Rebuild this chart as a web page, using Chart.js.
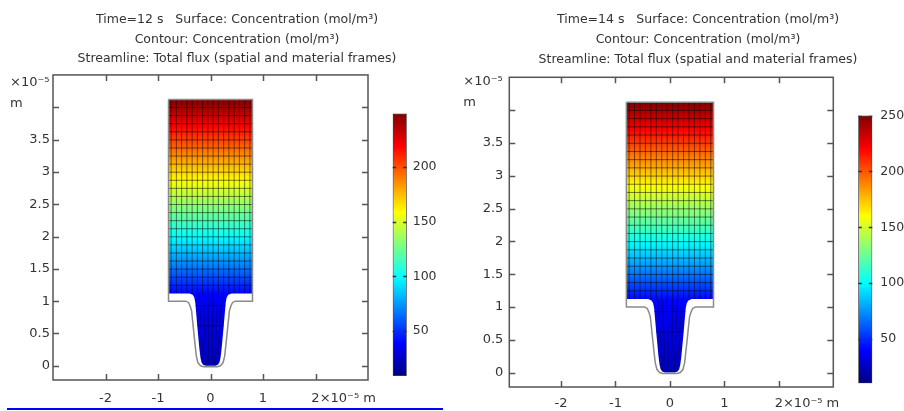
<!DOCTYPE html>
<html>
<head>
<meta charset="utf-8">
<script src="https://cdn.jsdelivr.net/npm/chart.js@4.4.0/dist/chart.umd.min.js"></script>
<style>
html, body { margin: 0; padding: 0; background: #fff; width: 904px; height: 411px; overflow: hidden; }
.box { position: absolute; }
#underline { position: absolute; left: 7px; top: 408px; width: 436px; height: 2px; background: #0000ff; }
</style>
</head>
<body>
<div class="box" style="left:0;top:0"><canvas id="plot12" width="474" height="411"></canvas></div>
<div class="box" style="left:450px;top:0"><canvas id="plot14" width="496" height="411"></canvas></div>
<div class="box" style="left:380px;top:100px"><canvas id="bar12" width="80" height="290"></canvas></div>
<div class="box" style="left:845px;top:100px"><canvas id="bar14" width="80" height="300"></canvas></div>
<div id="underline"></div>
<script>
// axis ticks (x and y in units of 1e-5 m)
var xTicks = [-2, -1, 0, 1, 2];
var xTickLabels = ['-2', '-1', '0', '1', '2'];
var yTicks = [0, 0.5, 1, 1.5, 2, 2.5, 3, 3.5, 4];
var yTickLabels = ['0', '0.5', '1', '1.5', '2', '2.5', '3', '3.5', ''];

// colour bars (mol/m3)
var cRange12 = [9, 249];
var cRange14 = [10.4, 250];
var colorTicks12 = [50, 100, 150, 200];
var colorTicks14 = [50, 100, 150, 200, 250];

// concentration read along the height of the domain
var fieldY  = [0, 0.5, 1.0, 1.12, 1.5, 2.0, 2.5, 3.0, 3.5, 4.12];
var conc12  = [24, 31, 37, 40, 66, 100, 134, 168, 204, 249];
var conc14  = [25, 32, 39, 42, 68, 102, 136, 171, 206, 250];

// coloured domain (deformed shape)
var domainX = [-0.8, 0.8, 0.8, 0.40, 0.34, 0.31, 0.29, 0.25, 0.21, 0.19, 0.17, 0.14, 0.09,
               -0.09, -0.14, -0.17, -0.19, -0.21, -0.25, -0.29, -0.31, -0.34, -0.40, -0.8];
var domainY = [4.12, 4.12, 1.12, 1.12, 1.10, 1.06, 0.98, 0.60, 0.25, 0.12, 0.05, 0.015, 0.0,
               0.0, 0.015, 0.05, 0.12, 0.25, 0.60, 0.98, 1.06, 1.10, 1.12, 1.12];

// grey geometry outline
var outlineX = [-0.8, 0.8, 0.8, 0.47, 0.42, 0.39, 0.36, 0.31, 0.27, 0.24, 0.19, 0.13,
                -0.13, -0.19, -0.24, -0.27, -0.31, -0.36, -0.39, -0.42, -0.47, -0.8, -0.8];
var outlineY = [4.12, 4.12, 1.0, 1.0, 0.98, 0.93, 0.85, 0.45, 0.15, 0.05, 0.0, -0.015,
                -0.015, 0.0, 0.05, 0.15, 0.45, 0.85, 0.93, 0.98, 1.0, 1.0, 4.12];

// contour lines and streamlines
var contourY = [0.62, 0.93, 1.245, 1.37, 1.495, 1.62, 1.745, 1.87, 1.995, 2.12, 2.245, 2.37, 2.495,
                2.62, 2.745, 2.87, 2.995, 3.12, 3.245, 3.37, 3.495, 3.62, 3.745, 3.87, 3.995];
var streamX = [-0.75, -0.65, -0.55, -0.45, -0.35, -0.25, -0.15, -0.05,
               0.05, 0.15, 0.25, 0.35, 0.45, 0.55, 0.65, 0.75];
var neckStreamTopX = [-0.22, -0.14, -0.05, 0.05, 0.14, 0.22];
var neckStreamBotX = [-0.13, -0.08, -0.03, 0.03, 0.08, 0.13];

var titles12 = ['Time=12 s   Surface: Concentration (mol/m\u00b3)', 'Contour: Concentration (mol/m\u00b3)',
                'Streamline: Total flux (spatial and material frames)'];
var titles14 = ['Time=14 s   Surface: Concentration (mol/m\u00b3)', 'Contour: Concentration (mol/m\u00b3)',
                'Streamline: Total flux (spatial and material frames)'];

Chart.defaults.font.family = '"DejaVu Sans", sans-serif';
Chart.defaults.font.size = 13;
Chart.defaults.color = '#333';

function jet(t) {
  t = Math.max(0, Math.min(1, t));
  var f = function (v) { return Math.round(255 * Math.max(0, Math.min(1, v))); };
  return 'rgb(' + f(1.5 - Math.abs(4 * t - 3)) + ',' + f(1.5 - Math.abs(4 * t - 2)) + ',' + f(1.5 - Math.abs(4 * t - 1)) + ')';
}

function interp(xs, ys, v) {
  if (v <= xs[0]) return ys[0];
  for (var i = 1; i < xs.length; i++) {
    if (v <= xs[i]) return ys[i - 1] + (ys[i] - ys[i - 1]) * (v - xs[i - 1]) / (xs[i] - xs[i - 1]);
  }
  return ys[ys.length - 1];
}

var fieldPlugin = {
  id: 'field',
  beforeDatasetsDraw: function (chart, args, o) {
    var ctx = chart.ctx, x = chart.scales.x, y = chart.scales.y;
    var px = function (v) { return x.getPixelForValue(v); };
    var py = function (v) { return y.getPixelForValue(v); };
    ctx.save();
    ctx.beginPath();
    domainX.forEach(function (v, i) {
      if (i) ctx.lineTo(px(v), py(domainY[i])); else ctx.moveTo(px(v), py(domainY[i]));
    });
    ctx.closePath();
    var y0 = fieldY[0], y1 = fieldY[fieldY.length - 1];
    var g = ctx.createLinearGradient(0, py(y0), 0, py(y1));
    for (var k = 0; k <= 100; k++) {
      var t = k / 100;
      var c = interp(fieldY, o.conc, y0 + (y1 - y0) * t);
      g.addColorStop(t, jet((c - o.range[0]) / (o.range[1] - o.range[0])));
    }
    ctx.fillStyle = g;
    ctx.fill();
    ctx.clip();
    ctx.strokeStyle = 'rgba(0,0,0,0.5)';
    ctx.lineWidth = 1;
    contourY.forEach(function (v) {
      ctx.beginPath(); ctx.moveTo(px(-1), py(v)); ctx.lineTo(px(1), py(v)); ctx.stroke();
    });
    streamX.forEach(function (v) {
      ctx.beginPath(); ctx.moveTo(px(v), py(4.2)); ctx.lineTo(px(v), py(1.12)); ctx.stroke();
    });
    ctx.strokeStyle = 'rgba(0,0,0,0.35)';
    neckStreamTopX.forEach(function (v, i) {
      ctx.beginPath(); ctx.moveTo(px(v), py(1.12)); ctx.lineTo(px(neckStreamBotX[i]), py(0.02)); ctx.stroke();
    });
    ctx.restore();
  },
  afterDraw: function (chart, args, o) {
    var ctx = chart.ctx, a = chart.chartArea, x = chart.scales.x, y = chart.scales.y;
    ctx.save();
    ctx.strokeStyle = '#555';
    ctx.lineWidth = 1.5;
    ctx.strokeRect(a.left, a.top, a.right - a.left, a.bottom - a.top);
    ctx.beginPath();
    xTicks.forEach(function (v) {
      var p = Math.round(x.getPixelForValue(v)) + 0.5;
      ctx.moveTo(p, a.bottom); ctx.lineTo(p, a.bottom - 6);
      ctx.moveTo(p, a.top); ctx.lineTo(p, a.top + 6);
    });
    yTicks.forEach(function (v) {
      var p = Math.round(y.getPixelForValue(v)) + 0.5;
      ctx.moveTo(a.left, p); ctx.lineTo(a.left + 6, p);
      ctx.moveTo(a.right, p); ctx.lineTo(a.right - 6, p);
    });
    ctx.stroke();
    ctx.fillStyle = '#333';
    ctx.font = '13px "DejaVu Sans", sans-serif';
    ctx.textBaseline = 'middle';
    ctx.textAlign = 'left';
    ctx.fillText('\u00d710\u207b\u2075', a.left - o.unitDx, a.top + o.unitDy);
    ctx.fillText('m', a.left - o.unitDx, a.top + o.unitDy + 21);
    var p2 = x.getPixelForValue(2) + ctx.measureText('2').width / 2;
    ctx.fillText('\u00d710\u207b\u2075 m', p2, a.bottom + o.xPad + 7.8);
    ctx.restore();
  }
};

function makePlot(id, titles, conc, range, L) {
  new Chart(document.getElementById(id), {
    type: 'scatter',
    data: {
      datasets: [{
        data: outlineX.map(function (v, i) { return { x: v, y: outlineY[i] }; }),
        showLine: true,
        borderColor: '#8a8a8a',
        borderWidth: 1.5,
        pointRadius: 0,
        fill: false
      }]
    },
    options: {
      responsive: false,
      animation: false,
      layout: { padding: 0 },
      plugins: {
        legend: { display: false },
        tooltip: { enabled: false },
        title: {
          display: true,
          text: titles,
          color: '#333',
          font: { size: 12.5, weight: 'normal', lineHeight: L.titleLH },
          padding: { top: L.titleTop, bottom: L.titleBottom }
        },
        field: { conc: conc, range: range, unitDx: L.unitDx, unitDy: L.unitDy, xPad: L.xPad }
      },
      scales: {
        x: {
          type: 'linear', min: L.xMin, max: 3,
          grid: { display: false, drawTicks: false },
          border: { display: false },
          afterBuildTicks: function (s) { s.ticks = xTicks.map(function (v) { return { value: v }; }); },
          afterFit: function (s) { s.height = L.xAxisH; },
          ticks: { autoSkip: false, maxRotation: 0, padding: L.xPad,
                   callback: function (v, i) { return xTickLabels[i]; } }
        },
        y: {
          type: 'linear', min: -0.22, max: 4.5,
          grid: { display: false, drawTicks: false },
          border: { display: false },
          afterBuildTicks: function (s) { s.ticks = yTicks.map(function (v) { return { value: v }; }); },
          afterFit: function (s) { s.width = L.yAxisW; },
          ticks: { autoSkip: false, padding: L.yPad,
                   callback: function (v, i) { return yTickLabels[i]; } }
        },
        // empty right-hand axis: keeps room for the colour bar so the title centres over the panel
        y2: {
          type: 'linear', position: 'right', min: 0, max: 1,
          grid: { display: false, drawTicks: false },
          border: { display: false },
          ticks: { display: false },
          afterFit: function (s) { s.width = L.rightW; }
        }
      }
    },
    plugins: [fieldPlugin]
  });
}

var barTicksPlugin = {
  id: 'barTicks',
  afterDatasetsDraw: function (chart) {
    var ctx = chart.ctx, a = chart.chartArea, y = chart.scales.y;
    ctx.save();
    ctx.strokeStyle = '#333';
    ctx.lineWidth = 1.5;
    ctx.beginPath();
    y.ticks.forEach(function (t) {
      var p = Math.round(y.getPixelForValue(t.value)) + 0.5;
      ctx.moveTo(a.left, p); ctx.lineTo(a.left + 3.5, p);
      ctx.moveTo(a.right, p); ctx.lineTo(a.right - 3.5, p);
    });
    ctx.stroke();
    ctx.restore();
  }
};

function makeBar(id, range, ticks, L) {
  new Chart(document.getElementById(id), {
    type: 'bar',
    data: {
      labels: [''],
      datasets: [{
        data: [[range[0], range[1]]],
        backgroundColor: function (c) {
          var ch = c.chart, y = ch.scales.y;
          if (!ch.chartArea || !y) return '#00f';
          var g = ch.ctx.createLinearGradient(0, y.getPixelForValue(range[0]), 0, y.getPixelForValue(range[1]));
          for (var k = 0; k <= 40; k++) g.addColorStop(k / 40, jet(k / 40));
          return g;
        },
        borderColor: '#444',
        borderWidth: 1,
        borderSkipped: false,
        barPercentage: 1,
        categoryPercentage: 1
      }]
    },
    options: {
      responsive: false,
      animation: false,
      layout: { padding: { left: L.left, right: 0, top: L.top, bottom: L.bottom } },
      plugins: { legend: { display: false }, tooltip: { enabled: false } },
      scales: {
        x: { display: false },
        y: {
          position: 'right', min: range[0], max: range[1],
          grid: { display: false, drawTicks: false },
          border: { display: false },
          afterBuildTicks: function (s) { s.ticks = ticks.map(function (v) { return { value: v }; }); },
          afterFit: function (s) { s.width = L.axisW; },
          ticks: { padding: L.pad, font: { size: 12.5 }, callback: function (v) { return String(v); } }
        }
      }
    },
    plugins: [barTicksPlugin]
  });
}

makePlot('plot12', titles12, conc12, cRange12,
  { rightW: 106, yAxisW: 53, xAxisH: 31, xMin: -3, xPad: 11.2, yPad: 3,
    titleLH: 1.55, titleTop: 10.3, titleBottom: 6.5, unitDx: 43, unitDy: 7.5 });
makePlot('plot14', titles14, conc14, cRange14,
  { rightW: 112.7, yAxisW: 59.3, xAxisH: 24, xMin: -2.95, xPad: 9.2, yPad: 6,
    titleLH: 1.6, titleTop: 10, titleBottom: 7.3, unitDx: 46, unitDy: 4.7 });
makeBar('bar12', cRange12, colorTicks12, { left: 12.7, top: 12.7, bottom: 14, axisW: 53.3, pad: 6 });
makeBar('bar14', cRange14, colorTicks14, { left: 13.3, top: 15, bottom: 16.7, axisW: 52.7, pad: 8 });
</script>
</body>
</html>
